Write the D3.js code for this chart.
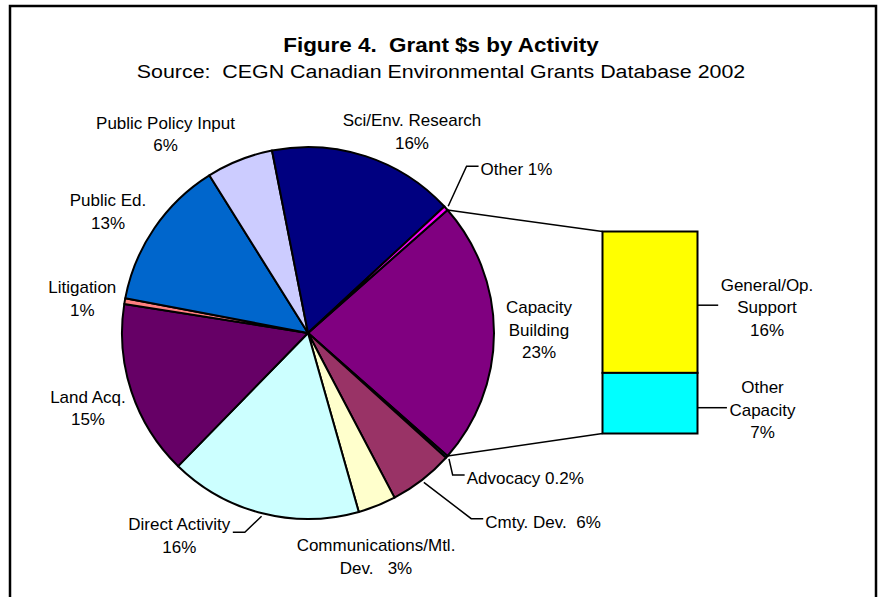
<!DOCTYPE html>
<html>
<head>
<meta charset="utf-8">
<script src="https://cdn.jsdelivr.net/npm/d3@7"></script>
<style>
body { margin: 0; background: #fff; }
text { font-family: "Liberation Sans", Arial, sans-serif; fill: #000; white-space: pre; }
</style>
</head>
<body>
<svg id="chart" width="882" height="597"></svg>
<script>
////////////////////////////////////////////////////////////////////////////////
// Data (pie goes clockwise, starting with the slice that is split into the bar)
var categories = ["Capacity\nBuilding", "Advocacy", "Cmty. Dev.", "Communications/Mtl.\nDev.",
                  "Direct Activity", "Land Acq.", "Litigation", "Public Ed.",
                  "Public Policy Input", "Sci/Env. Research", "Other"];
var values     = [23.0, 0.2, 5.6, 3.3, 16.7, 15.2, 0.5, 13.1, 5.8, 16.2, 0.4];
var pctLabels  = ["23%", "0.2%", "6%", "3%", "16%", "15%", "1%", "13%", "6%", "16%", "1%"];

var barCategories = ["General/Op.\nSupport", "Other\nCapacity"];
var barValues     = [16.1, 6.9];
var barPctLabels  = ["16%", "7%"];

var titleText    = "Figure 4.  Grant $s by Activity";
var subtitleText = "Source:  CEGN Canadian Environmental Grants Database 2002";

////////////////////////////////////////////////////////////////////////////////
// Styles and layout
var colors    = ["#800080", "#333399", "#993366", "#FFFFCC", "#CCFFFF", "#660066",
                 "#FF8080", "#0066CC", "#CCCCFF", "#000080", "#FF00FF"];
var barColors = ["#FFFF00", "#00FFFF"];

// label block centre, offset from the slice's outer arc midpoint
var pieLabelLayout = [
	{dx: 45,    dy: -3.5,  sep: "\n"},
	{dx: 78.5,  dy: 21,    sep: " ",   leader: true},
	{dx: 121,   dy: 41.7,  sep: "  ",  leader: true},
	{dx: -1,    dy: 51,    sep: "   "},
	{dx: -83,   dy: 22,    sep: "\n",  leader: true},
	{dx: -43.5, dy: 16.5,  sep: "\n"},
	{dx: -42.5, dy: -2.5,  sep: "\n"},
	{dx: -46.5, dy: -16.5, sep: "\n"},
	{dx: -74,   dy: -26,   sep: "\n"},
	{dx: 46.5,  dy: -24.6, sep: "\n"},
	{dx: 70.5,  dy: -39,   sep: " ",   leader: true}
];
var barLabelLayout = [{dx: 69.5, dy: 5}, {dx: 65, dy: 6.5}];

var cx = 308, cy = 333, R = 186;
var fontSize = 17, lineH = 22.5;

var svg = d3.select("#chart");

// outer frame (bottom edge runs off the picture)
svg.append("rect")
	.attr("x", 10).attr("y", 6)
	.attr("width", 866).attr("height", 620)
	.attr("fill", "none")
	.attr("stroke", "#000")
	.attr("stroke-width", 2.5);

// titles (text in the original is a bit wide, hence the x-scale)
svg.append("text")
	.attr("transform", "translate(441,51.7) scale(1.15,1)")
	.attr("text-anchor", "middle")
	.style("font-size", "19.5px")
	.style("font-weight", "bold")
	.text(titleText);
svg.append("text")
	.attr("transform", "translate(441,78.3) scale(1.15,1)")
	.attr("text-anchor", "middle")
	.style("font-size", "18.6px")
	.text(subtitleText);

////////////////////////////////////////////////////////////////////////////////
// Pie
var total = d3.sum(values);
var a0 = Math.PI / 2 - (values[0] / total) * Math.PI;   // split slice centred at 3 o'clock
var pie = d3.pie().sort(null).value(function(d) { return d; })
	.startAngle(a0).endAngle(a0 + 2 * Math.PI);
var arcs = pie(values);

var arc = d3.arc().innerRadius(0).outerRadius(R);
var rimArc = d3.arc().innerRadius(R).outerRadius(R);
var leaderArc = d3.arc().innerRadius(R + 3).outerRadius(R + 3);

var g = svg.append("g").attr("transform", "translate(" + cx + "," + cy + ")");
g.selectAll("path.slice")
	.data(arcs)
	.enter()
	.append("path")
	.attr("class", "slice")
	.attr("d", arc)
	.attr("fill", function(d, i) { return colors[i]; })
	.attr("stroke", "#000")
	.attr("stroke-width", 2)
	.attr("stroke-linejoin", "round");

////////////////////////////////////////////////////////////////////////////////
// Bar of pie
var barX = d3.scaleBand().domain(["Capacity Building"]).range([602.5, 697.5]);
var barY = d3.scaleLinear().domain([0, d3.sum(barValues)]).range([433.5, 231.5]);
var stack = [];
var acc = 0;
barValues.forEach(function(v, i) {
	stack.push({i: i, y0: acc, y1: acc + v});
	acc += v;
});
// bar top holds the first value
stack.forEach(function(s) {
	var top = d3.sum(barValues) - s.y0, bot = d3.sum(barValues) - s.y1;
	s.top = barY(top); s.bot = barY(bot);
});
svg.selectAll("rect.bar")
	.data(stack)
	.enter()
	.append("rect")
	.attr("class", "bar")
	.attr("x", barX("Capacity Building"))
	.attr("width", barX.bandwidth())
	.attr("y", function(d) { return d.top; })
	.attr("height", function(d) { return d.bot - d.top; })
	.attr("fill", function(d) { return barColors[d.i]; })
	.attr("stroke", "#000")
	.attr("stroke-width", 2);

// connector lines from the split slice to the bar
var split = arcs[0];
function rimPoint(a) { return [cx + R * Math.sin(a), cy - R * Math.cos(a)]; }
var p1 = rimPoint(split.startAngle), p2 = rimPoint(split.endAngle);
svg.append("line")
	.attr("x1", p1[0]).attr("y1", p1[1])
	.attr("x2", barX("Capacity Building")).attr("y2", barY(d3.sum(barValues)))
	.attr("stroke", "#000").attr("stroke-width", 1.5);
svg.append("line")
	.attr("x1", p2[0]).attr("y1", p2[1])
	.attr("x2", barX("Capacity Building")).attr("y2", barY(0))
	.attr("stroke", "#000").attr("stroke-width", 1.5);

////////////////////////////////////////////////////////////////////////////////
// Labels
function addLabel(x, y, lines) {
	var t = svg.append("text")
		.attr("text-anchor", "middle")
		.attr("xml:space", "preserve")
		.style("font-size", fontSize + "px");
	lines.forEach(function(l, k) {
		t.append("tspan")
			.attr("x", x)
			.attr("y", y + (k - (lines.length - 1) / 2) * lineH + 6)
			.text(l);
	});
	return t;
}

arcs.forEach(function(d, i) {
	var lay = pieLabelLayout[i];
	var m = rimArc.centroid(d);
	var lx = cx + m[0] + lay.dx, ly = cy + m[1] + lay.dy;
	var lines = (categories[i] + lay.sep + pctLabels[i]).split("\n");
	var t = addLabel(lx, ly, lines);
	if (lay.leader) {
		var bb = t.node().getBBox();
		var s = leaderArc.centroid(d);
		var sx = cx + s[0], sy = cy + s[1];
		var right = lx > sx;
		var ex = right ? bb.x - 2 : bb.x + bb.width + 2;
		var ey = ly - 3;
		var elx = right ? ex - 12 : ex + 12;
		svg.append("polyline")
			.attr("points", [[sx, sy], [elx, ey], [ex, ey]].join(" "))
			.attr("fill", "none")
			.attr("stroke", "#000")
			.attr("stroke-width", 1.5);
	}
});

stack.forEach(function(s, i) {
	var lay = barLabelLayout[i];
	var bx = barX("Capacity Building") + barX.bandwidth();
	var my = (s.top + s.bot) / 2;
	var lines = (barCategories[i] + "\n" + barPctLabels[i]).split("\n");
	var t = addLabel(bx + lay.dx, my + lay.dy, lines);
	var bb = t.node().getBBox();
	svg.append("line")
		.attr("x1", bx).attr("y1", my + lay.dy - 2)
		.attr("x2", bb.x - 2.5).attr("y2", my + lay.dy - 2)
		.attr("stroke", "#000").attr("stroke-width", 1.5);
});
</script>
</body>
</html>
